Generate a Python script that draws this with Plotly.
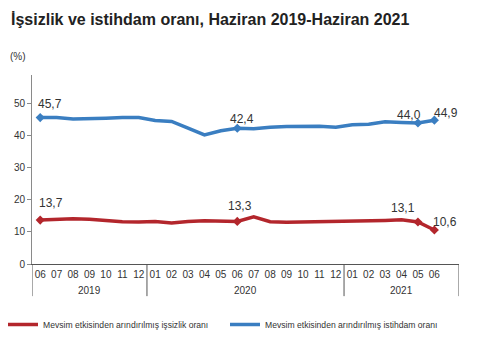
import plotly.graph_objects as go

months = ["06", "07", "08", "09", "10", "11", "12",
          "01", "02", "03", "04", "05", "06", "07", "08", "09", "10", "11", "12",
          "01", "02", "03", "04", "05", "06"]
years = ["2019", "2020", "2021"]
year_start = [0, 7, 19]
year_end = [6, 18, 25]  # last slot of 2021 is an empty category in the original

unemployment = [13.7, 14.0, 14.1, 14.0, 13.5, 13.2, 13.1, 13.3, 12.8, 13.3, 13.5, 13.5,
                13.3, 14.7, 13.2, 13.0, 13.1, 13.2, 13.1, 13.3, 13.5, 13.6, 13.8, 13.1, 10.6]
employment = [45.7, 45.7, 45.3, 45.3, 45.5, 45.7, 45.7, 44.8, 44.5, 42.4, 40.3, 41.6,
              42.4, 42.2, 42.7, 42.9, 43.0, 43.0, 42.7, 43.5, 43.6, 44.4, 44.2, 44.0, 44.9]

label_idx = [0, 12, 23, 24]
emp_shift = [(10, 14), (5, 9), (-9, 8), (12, 7)]
unemp_shift = [(11, 17), (3, 15), (-15, 14), (11, 8)]

name_unemp = "Mevsim etkisinden arındırılmış işsizlik oranı"
name_emp = "Mevsim etkisinden arındırılmış istihdam oranı"

RED = "#B3262C"
BLUE = "#3A7EC1"
TXT = "#333333"
AX = "#8A8A8A"

x = list(range(len(months)))

fig = go.Figure()
fig.add_trace(go.Scatter(x=x, y=unemployment, mode="lines", name=name_unemp,
                         line=dict(color=RED, width=3.5), hoverinfo="skip", legend="legend"))
fig.add_trace(go.Scatter(x=x, y=employment, mode="lines", name=name_emp,
                         line=dict(color=BLUE, width=3.5), hoverinfo="skip", legend="legend2"))
fig.add_trace(go.Scatter(x=label_idx, y=[unemployment[i] for i in label_idx], mode="markers",
                         marker=dict(symbol="diamond", size=7, color=RED), showlegend=False,
                         hoverinfo="skip"))
fig.add_trace(go.Scatter(x=label_idx, y=[employment[i] for i in label_idx], mode="markers",
                         marker=dict(symbol="diamond", size=7, color=BLUE), showlegend=False,
                         hoverinfo="skip"))

def fmt(v):
    return f"{v:.1f}".replace(".", ",")

for i, (dx, dy) in zip(label_idx, emp_shift):
    fig.add_annotation(x=i, y=employment[i], text=fmt(employment[i]), showarrow=False,
                       xshift=dx, yshift=dy, font=dict(size=12, color=TXT))
for i, (dx, dy) in zip(label_idx, unemp_shift):
    fig.add_annotation(x=i, y=unemployment[i], text=fmt(unemployment[i]), showarrow=False,
                       xshift=dx, yshift=dy, font=dict(size=12, color=TXT))

# year group labels and separators
for name, s, e in zip(years, year_start, year_end):
    fig.add_annotation(x=(s + e) / 2, y=-0.138, xref="x", yref="paper", text=name,
                       showarrow=False, font=dict(size=10, color=TXT), yanchor="middle")
seps = [year_start[0] - 0.5] + [e + 0.5 for e in year_end]
for sx in seps:
    fig.add_shape(type="line", xref="x", yref="paper", x0=sx, x1=sx, y0=0, y1=-0.17,
                  line=dict(color="#555555", width=1))

fig.add_annotation(x=-24 / 427, y=(264 - 57) / 189, xref="paper", yref="paper", text="(%)",
                   showarrow=False, font=dict(size=10, color=TXT),
                   xanchor="left", yanchor="middle")

leg_common = dict(orientation="h", xref="container", xanchor="left",
                  y=1 - 310 / 348, yref="container", yanchor="top",
                  font=dict(size=8.6, color=TXT), itemwidth=30,
                  bgcolor="rgba(0,0,0,0)")

fig.update_layout(
    width=478, height=348,
    margin=dict(l=32, r=19, t=75, b=84),
    paper_bgcolor="white", plot_bgcolor="white",
    font=dict(family="Liberation Sans, Arial, sans-serif", color=TXT),
    title=dict(text="<b>İşsizlik ve istihdam oranı, Haziran 2019-Haziran 2021</b>",
               x=11 / 478, xanchor="left", xref="container",
               y=1 - 19 / 348, yanchor="middle", yref="container",
               font=dict(size=16, color="#222222")),
    showlegend=True,
    legend=dict(x=3 / 478, **leg_common),
    legend2=dict(x=225 / 478, **leg_common),
    xaxis=dict(range=[-0.5, 25.5], tickmode="array", tickvals=x, ticktext=months,
               showgrid=False, zeroline=False, showline=True, linecolor="#555555",
               linewidth=1, ticks="", ticklabelstandoff=1,
               tickfont=dict(size=10, color=TXT), fixedrange=True),
    yaxis=dict(range=[0, 59], tickvals=[0, 10, 20, 30, 40, 50], showgrid=False,
               zeroline=False, showline=True, linecolor=AX, linewidth=1,
               ticks="outside", ticklen=4, tickcolor=AX,
               tickfont=dict(size=10, color=TXT), fixedrange=True),
)

fig.write_html("out.html")
